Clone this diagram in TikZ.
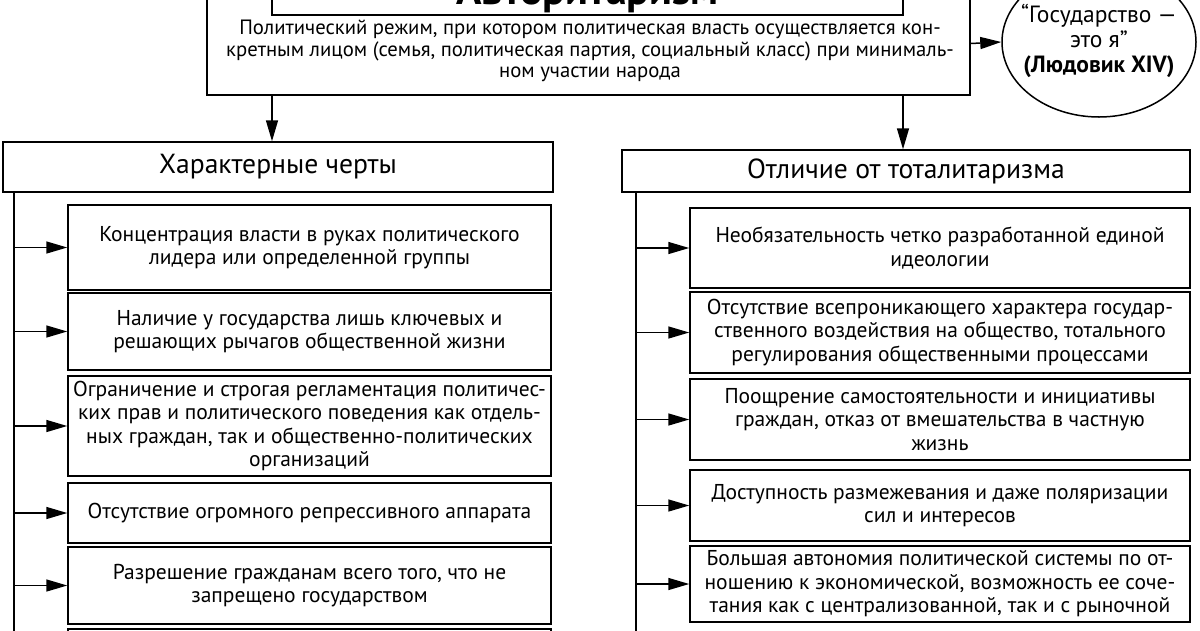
\documentclass[tikz,border=0pt]{standalone}
\usepackage{fontspec}
\setmainfont{PT Sans}
\usetikzlibrary{arrows.meta,shapes.geometric}
\begin{document}
\begin{tikzpicture}[x=1pt,y=-1pt,
  box/.style={draw,line width=1.5pt,inner sep=0pt,align=center,font=\fontsize{21.5}{23.5}\selectfont},
  itemL/.style={box,minimum width=483pt},
  itemR/.style={box,minimum width=500pt},
  head/.style={box,font=\fontsize{27.6}{30}\selectfont},
  arr/.style={line width=1.5pt,-{Triangle[length=21pt,width=12pt]}},
  line/.style={line width=1.5pt}]
\useasboundingbox (0,0) rectangle (1200,630);
\clip (0,0) rectangle (1200,630);
% top block
\node[box,minimum width=763pt,minimum height=115pt] (top) at (588.5,37.5) {};
\node[draw,line width=1.5pt,inner sep=0pt,minimum width=631pt,minimum height=42pt] (title) at (587.5,-6) {};
\node[anchor=base,inner sep=0pt,font=\bfseries\fontsize{42}{42}\selectfont] (titletext) at (587.5,4) {Авторитаризм};
\node[align=center,inner sep=0pt,font=\fontsize{20.7}{21.5}\selectfont] (def) at (590,51)
 {Политический режим, при котором политическая власть осуществляется кон-\\
  кретным лицом (семья, политическая партия, социальный класс) при минималь-\\
  ном участии народа};
\node[draw,ellipse,line width=1.5pt,minimum width=194pt,minimum height=150pt,inner xsep=-30pt,inner ysep=-10pt,font=\fontsize{23.5}{25}\selectfont] (ell) at (1099,42)
 {\raisebox{-10pt}{\begin{tabular}{@{}c@{}}“Государство —\\это я”\\\textbf{(Людовик XIV)}\end{tabular}}\hspace{20pt}};
\draw[arr] ([yshift=-6pt]top.east) -- (ell.west);
% headers
\node[head,minimum width=550pt,minimum height=50pt] (hl) at (278,167) {Характерные черты};
\node[head,minimum width=568pt,minimum height=42pt] (hr) at (906,171) {Отличие от тоталитаризма};
\coordinate (dl) at (272,95);
\coordinate (dr) at (903,95);
\draw[arr] (dl) -- (dl |- hl.north);
\draw[arr] (dr) -- (dr |- hr.north);
% left items
\node[itemL,minimum height=85pt] (l1) at (309.5,247.5) {Концентрация власти в руках политического\\лидера или определенной группы};
\node[itemL,minimum height=77pt] (l2) at (309.5,331.5) {Наличие у государства лишь ключевых и\\решающих рычагов общественной жизни};
\node[itemL,minimum height=100pt] (l3) at (309.5,426) {Ограничение и строгая регламентация политичес-\\ких прав и политического поведения как отдель-\\ных граждан, так и общественно-политических\\организаций};
\node[itemL,minimum height=60pt] (l4) at (309.5,513) {Отсутствие огромного репрессивного аппарата};
\node[itemL,minimum height=77pt] (l5) at (309.5,585.5) {Разрешение гражданам всего того, что не\\запрещено государством};
\node[itemL,minimum height=70pt] (l6) at (309.5,664) {};
\coordinate (sl) at (14,192);
\coordinate (slend) at (14,640);
\draw[line] (sl) -- (slend);
\foreach \n in {l1,l2,l3,l4,l5} \draw[arr] (sl |- \n.west) -- (\n.west);
% right items
\node[itemR,minimum height=80pt] (r1) at (940,248) {Необязательность четко разработанной единой\\идеологии};
\node[itemR,minimum height=81pt] (r2) at (940,332.5) {Отсутствие всепроникающего характера государ-\\ственного воздействия на общество, тотального\\регулирования общественными процессами};
\node[itemR,minimum height=81pt] (r3) at (940,419.5) {Поощрение самостоятельности и инициативы\\граждан, отказ от вмешательства в частную\\жизнь};
\node[itemR,minimum height=71pt] (r4) at (940,505.5) {Доступность размежевания и даже поляризации\\сил и интересов};
\node[itemR,minimum height=76pt] (r5) at (940,584) {Большая автономия политической системы по от-\\ношению к экономической, возможность ее соче-\\тания как с централизованной, так и с рыночной};
\coordinate (sr) at (636,192);
\coordinate (srend) at (636,640);
\draw[line] (sr) -- (srend);
\foreach \n in {r1,r2,r3,r4,r5} \draw[arr] (sr |- \n.west) -- (\n.west);
\end{tikzpicture}
\end{document}
